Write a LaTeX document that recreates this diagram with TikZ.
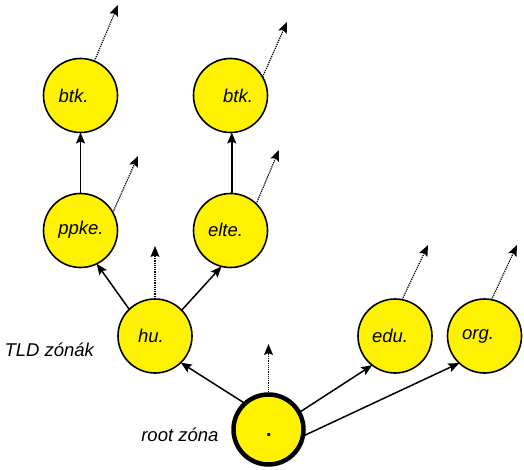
\documentclass[tikz,border=0pt]{standalone}
\usepackage{fontspec}
\setmainfont{Liberation Sans}
\usetikzlibrary{arrows.meta}
\begin{document}
\begin{tikzpicture}[x=1pt,y=-1pt,
  zone/.style={circle,draw=black,line width=1.6pt,fill=yellow,minimum size=74pt,inner sep=0pt,outer sep=0pt},
  rootzone/.style={zone,line width=4.5pt,minimum size=70pt},
  lbl/.style={font=\fontsize{18.5}{20}\selectfont\itshape},
  link/.style={line width=1.5pt,-{Stealth[length=11pt,width=9pt,inset=2pt]}},
  ext/.style={line width=1.2pt,densely dotted,-{Stealth[length=11pt,width=9pt,inset=2pt]}}]
\useasboundingbox (0,0) rectangle (524,470);
\node[zone] (btkA) at (80.5,95.5) {};
\node[zone] (btkB) at (230.5,95.5) {};
\node[zone] (ppke) at (80.5,230.5) {};
\node[zone] (elte) at (230.5,230.5) {};
\node[zone] (hu) at (155,336) {};
\node[zone] (edu) at (395,336) {};
\node[zone] (org) at (484.5,336) {};
\node[rootzone] (root) at (268.5,429.5) {};
\node[lbl] (tbtkA) at (73.5,96) {btk.};
\node[lbl] (tbtkB) at (238,96) {btk.};
\node[lbl] (tppke) at (81,230) {ppke.};
\node[lbl] (telte) at (225.5,230) {elte.};
\node[lbl] (thu) at (151,336) {hu.};
\node[lbl] (tedu) at (390,336) {edu.};
\node[lbl] (torg) at (478,336) {org.};
\node[font=\fontsize{20}{22}\selectfont\bfseries] (troot) at (269,435) {.};
\node[lbl,anchor=west] (tld) at (1,350) {TLD zónák};
\node[lbl,anchor=east] (rz) at (222,435) {root zóna};
% free ends
\coordinate (eA) at (118,5);
\coordinate (eB) at (287,22);
\coordinate (eP) at (138,156);
\coordinate (eE) at (279,150);
\coordinate (eH) at (155,246);
\coordinate (eR) at (268.5,344);
\coordinate (eD) at (428,245);
\coordinate (eO) at (517,245);
\draw[ext] (btkA.68) -- (eA);
\draw[ext] (btkB.30) -- (eB);
\draw[ext] (ppke.29) -- (eP);
\draw[ext] (elte.46) -- (eE);
\draw[ext] (hu.90) -- (eH);
\draw[ext] (root.90) -- (eR);
\draw[ext] (edu.79) -- (eD);
\draw[ext] (org.79) -- (eO);
% solid links
\draw[link] (ppke.90) -- (btkA.-90);
\draw[link] (elte.88) -- (btkB.-88);
\draw[link] (hu.134) -- (ppke.-64);
\draw[link] (hu.44) -- (elte.-104);
\draw[link] (root.132) -- (hu.-46);
\draw[link] (root.29) -- (edu.-128);
\draw[link] (root.-11) -- (org.-133);
\end{tikzpicture}
\end{document}
